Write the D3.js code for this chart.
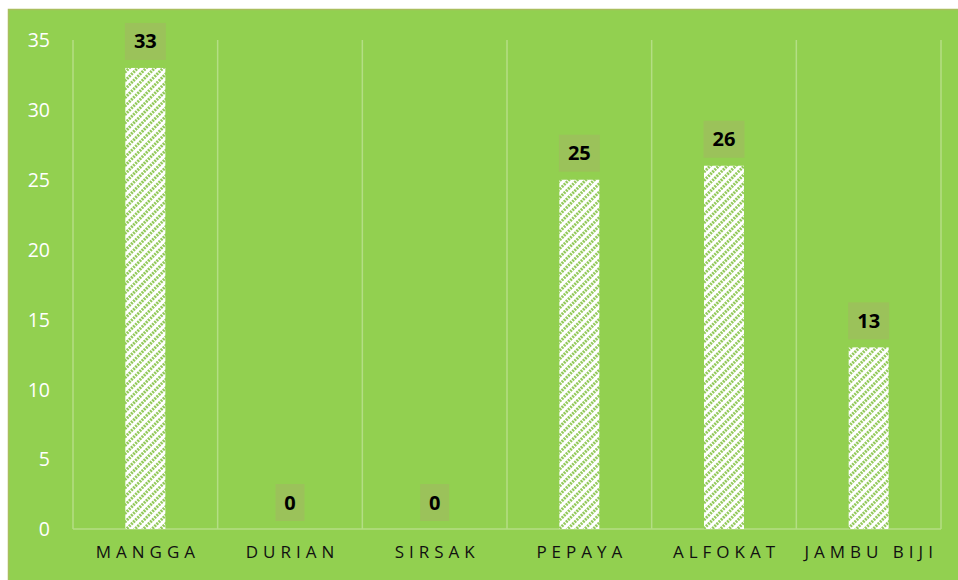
<!DOCTYPE html>
<html><head><meta charset="utf-8">
<script src="https://cdn.jsdelivr.net/npm/d3@7"></script>
<style>html,body{margin:0;padding:0;background:#fff;}svg{display:block;}</style>
</head><body>
<svg id="c" width="958" height="580"></svg>
<script>
const categories = ["MANGGA","DURIAN","SIRSAK","PEPAYA","ALFOKAT","JAMBU BIJI"];
const values = [33, 0, 0, 25, 26, 13];
const yTicks = [0,5,10,15,20,25,30,35];

const svg = d3.select("#c");
const W = 958, H = 580;
const m = {left:73, right:17, top:40, bottom:51};
const green = "#92D050";

svg.append("rect").attr("x",8.5).attr("y",9.5).attr("width",W).attr("height",H)
  .attr("fill",green).attr("stroke","#A9BE5E").attr("stroke-width",1.5);

const defs = svg.append("defs");
const pat = defs.append("pattern").attr("id","hatch").attr("patternUnits","userSpaceOnUse")
  .attr("width",6).attr("height",6).attr("patternTransform","rotate(45)");
pat.append("rect").attr("width",6).attr("height",6).attr("fill","#ffffff");
pat.append("line").attr("x1",1.5).attr("y1",0).attr("x2",1.5).attr("y2",6)
  .attr("stroke","#93C95A").attr("stroke-width",3).attr("stroke-dasharray","2,1");

const x = d3.scaleBand().domain(categories).range([m.left, W-m.right]).paddingInner(0).paddingOuter(0);
const y = d3.scaleLinear().domain([0,35]).range([H-m.bottom, m.top]);

const edges = categories.map(c=>x(c)).concat([x(categories[categories.length-1])+x.bandwidth()]);
svg.append("g").selectAll("line").data(edges).join("line")
  .attr("x1",d=>d).attr("x2",d=>d).attr("y1",y(35)).attr("y2",y(0))
  .attr("stroke","#B4DE85").attr("stroke-width",1.5);
svg.append("line").attr("x1",m.left).attr("x2",W-m.right).attr("y1",y(0)).attr("y2",y(0))
  .attr("stroke","#B4DE85").attr("stroke-width",1.5);

const yAxis = d3.axisLeft(y).tickValues(yTicks).tickSize(0).tickPadding(23);
const ga = svg.append("g").attr("transform",`translate(${m.left},0)`).call(yAxis);
ga.select(".domain").remove();
ga.selectAll("text").attr("fill","#ffffff").style("font-family","'Open Sans', Lato, sans-serif")
  .style("font-size","19.5px").attr("dy","0.35em");

const xAxis = d3.axisBottom(x).tickSize(0).tickPadding(18);
const gx = svg.append("g").attr("transform",`translate(0,${y(0)})`).call(xAxis);
gx.select(".domain").remove();
gx.selectAll("text").attr("fill","#111").style("font-family","'Open Sans', Lato, sans-serif")
  .style("font-size","17px").style("letter-spacing","5px").attr("dy","0.66em")
  .attr("dx","2.5px");

const bw = 40;
const bars = svg.append("g").selectAll("g").data(categories.map((c,i)=>({c,v:values[i]}))).join("g");
bars.append("rect")
  .attr("x",d=>x(d.c)+x.bandwidth()/2-bw/2).attr("width",bw)
  .attr("y",d=>y(d.v)).attr("height",d=>y(0)-y(d.v))
  .attr("fill","url(#hatch)");
bars.append("rect")
  .attr("x",d=>x(d.c)+x.bandwidth()/2-(d.v>=10?20.5:14.5))
  .attr("width",d=>d.v>=10?41:29)
  .attr("y",d=>y(d.v)-45).attr("height",37)
  .attr("fill","#9BC25A");
bars.append("text")
  .attr("x",d=>x(d.c)+x.bandwidth()/2).attr("y",d=>y(d.v)-26.5)
  .attr("text-anchor","middle").attr("dy","0.35em")
  .style("font-family","'Open Sans', Lato, sans-serif").style("font-weight","bold")
  .style("font-size","20px").attr("fill","#000")
  .text(d=>d.v);
</script>
</body></html>
